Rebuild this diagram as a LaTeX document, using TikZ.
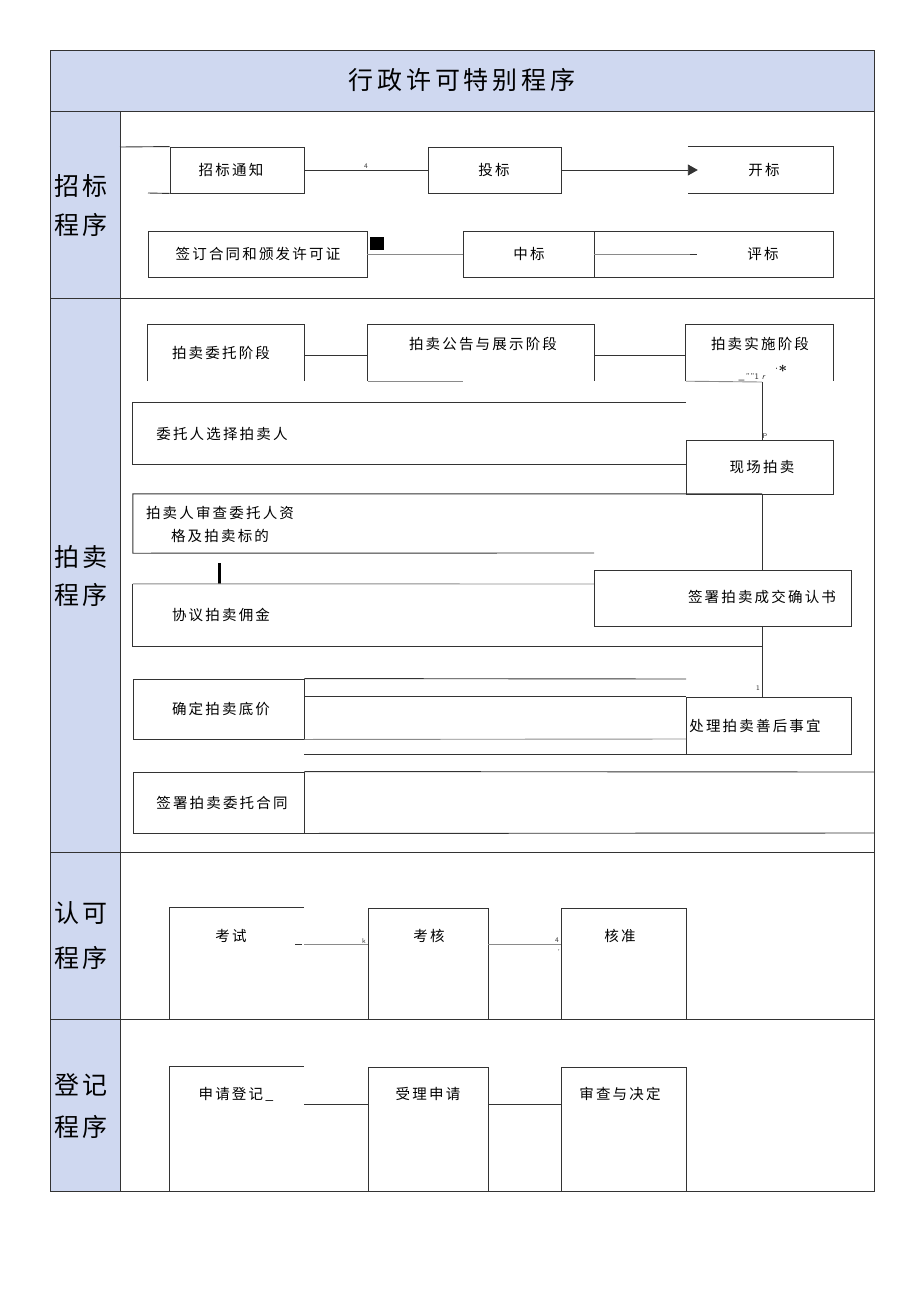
\documentclass[tikz,border=0pt]{standalone}
\usepackage{fontspec}
\newfontfamily\cjk{Noto Sans CJK SC}[LetterSpace=15]
\usetikzlibrary{arrows.meta}
\definecolor{lav}{HTML}{CFD8F0}
\definecolor{ln}{HTML}{333333}
\definecolor{lg}{HTML}{8A8A8A}
\begin{document}
\begin{tikzpicture}[x=1pt,y=-1pt,
  every node/.style={inner sep=0pt, font=\cjk\fontsize{14.5}{17}\selectfont},
  box/.style={rectangle, inner sep=0pt},
  fullbox/.style={box, draw=ln, line width=0.9pt},
  ed/.style={draw=ln, line width=0.9pt},
  gr/.style={draw=lg, line width=0.9pt},
  big/.style={font=\cjk\fontsize{25}{28}\selectfont},
  tinylab/.style={font=\sffamily\fontsize{7}{8}\selectfont, text=ln}]
\useasboundingbox (0,0) rectangle (920,1301);
% backgrounds
\fill[lav] (50,50) rectangle (874,111);
\fill[lav] (50,111) rectangle (120,1191);
% frame
\draw[ed] (50,50) rectangle (874,1191);
\draw[ed] (50,111) -- (874,111);
\draw[ed] (50,298) -- (874,298);
\draw[ed] (50,852) -- (874,852);
\draw[ed] (50,1019) -- (874,1019);
\draw[ed] (120,111) -- (120,1191);
% title and lane labels
\node[big] (title) at (462,80) {行政许可特别程序};
\node[big] (l1a) at (81,186) {招标};
\node[big] (l1b) at (81,225) {程序};
\node[big] (l2a) at (81,557) {拍卖};
\node[big] (l2b) at (81,595) {程序};
\node[big] (l3a) at (81,913) {认可};
\node[big] (l3b) at (81,958) {程序};
\node[big] (l4a) at (81,1085) {登记};
\node[big] (l4b) at (81,1127) {程序};

% ===== 招标程序 =====
\node[fullbox, minimum width=134, minimum height=46] (zbtz) at (237,170) {};
\node (tzbtz) at (231,170) {招标通知};
\draw[ed] (120,147) -- (zbtz.north west);
\draw[ed] (148,193) -- (zbtz.south west);
\node[fullbox, minimum width=133, minimum height=46] (tb) at (494.5,170) {};
\node (ttb) at (494,170) {投标};
\node[box, minimum width=145, minimum height=46] (kb) at (760.5,170) {};
\node (tkb) at (764,170) {开标};
\draw[ed] (kb.north west) -- (kb.north east) -- (kb.south east) -- (kb.south west);
\draw[ed] (zbtz.east) -- (tb.west);
\node[tinylab] (n4a) at (366,166) {4};
\draw[ed, -{Triangle[length=10pt,width=11pt]}] (tb.east) -- ([xshift=10pt]kb.west);

\node[fullbox, minimum width=219, minimum height=46] (qd) at (257.5,254) {};
\node (tqd) at (258,254) {签订合同和颁发许可证};
\node[box, fill=black, minimum width=14, minimum height=13] (sq) at (377,243.5) {};
\node[fullbox, minimum width=131, minimum height=46] (zb) at (528.5,254) {};
\node (tzb) at (529,254) {中标};
\node[fullbox, minimum width=239, minimum height=46] (pb) at (713.5,254) {};
\node (tpb) at (763,254) {评标};
\draw[gr] (qd.east) -- (zb.west);
\coordinate (pbend) at (690,254);
\draw[gr] (pb.west) -- (pbend);
\draw[ed] (pbend) -- ++(7,0);

% ===== 拍卖程序 =====
\node[box, minimum width=156, minimum height=56] (pmwt) at (226,353) {};
\node (tpmwt) at (221,353) {拍卖委托阶段};
\draw[ed] (pmwt.south west) -- (pmwt.north west) -- (pmwt.north east) -- (pmwt.south east);
\node[box, minimum width=226, minimum height=56] (ggzs) at (481,353) {};
\node (tggzs) at (483,344) {拍卖公告与展示阶段};
\draw[ed] (ggzs.south west) -- (ggzs.north west) -- (ggzs.north east) -- (ggzs.south east);
\draw[gr] (ggzs.south west) -- ++(95,0);
\node[box, minimum width=147, minimum height=56] (ssjd) at (759.5,353) {};
\node (tssjd) at (760,344) {拍卖实施阶段};
\draw[ed] (ssjd.south west) -- (ssjd.north west) -- (ssjd.north east) -- (ssjd.south east);
\node[font=\sffamily\fontsize{8.5}{9}\selectfont, text=ln] (gar1) at (752,377) {\_\,''''1 \textit{r}};
\node[font=\rmfamily\fontsize{15}{15}\selectfont] (gar2) at (781,371) {$^{\cdot}$\textbf{*}};
\draw[ed] (pmwt.east |- 0,355) -- (ggzs.west |- 0,355);
\draw[ed] (ggzs.east |- 0,355) -- (ssjd.west |- 0,355);
\coordinate (v1) at (762,382);
\draw[gr] (ssjd.south west) -- (v1);

\node[box, minimum width=553, minimum height=61] (wtxz) at (409.5,433.5) {};
\node (twtxz) at (222,434) {委托人选择拍卖人};
\draw[ed] (wtxz.north east) -- (wtxz.north west) -- (wtxz.south west) -- (wtxz.south east);
\node[fullbox, minimum width=147, minimum height=54] (xcpm) at (759.5,467) {};
\node (txcpm) at (762,467) {现场拍卖};
\draw[ed] (v1) -- (v1 |- xcpm.north);
\node[tinylab] (np) at (765,436) {P};

\node[box, minimum width=629, minimum height=59] (scwt) at (447.5,523.5) {};
\node (tscwt1) at (220,513) {拍卖人审查委托人资};
\node (tscwt2) at (220,536) {格及拍卖标的};
\draw[ed] (scwt.north east) -- (scwt.north west) -- (scwt.south west) -- (594,553);
\node[box, minimum width=3, minimum height=21, fill=black] (bar) at (219,573.5) {};
\node[box, minimum width=629, minimum height=62] (xyyj) at (447.5,615) {};
\node (txyyj) at (221,615) {协议拍卖佣金};
\draw[gr] (594,584) -- (xyyj.north west);
\draw[ed] (xyyj.north west) -- (xyyj.south west) -- (xyyj.south east);
\node[fullbox, minimum width=257, minimum height=56] (qr) at (722.5,598) {};
\node (tqr) at (762,597) {签署拍卖成交确认书};
\coordinate (v2) at (762,494);
\draw[ed] (v2) -- (v2 |- qr.north);

\node[fullbox, minimum width=171, minimum height=60] (qddj) at (218.5,709) {};
\node (tqddj) at (221,709) {确定拍卖底价};
\node[fullbox, minimum width=165, minimum height=57] (cl) at (768.5,725.5) {};
\node (tcl) at (755,726) {处理拍卖善后事宜};
\coordinate (v3) at (762,626);
\draw[ed] (v3) -- (v3 |- cl.north);
\node[tinylab] (n1) at (758,688) {1};
\draw[ed] (qddj.north east) -- (686,679);
\draw[ed] (qddj.north east |- cl.north) -- (cl.north west);
\draw[gr] (qddj.south east) -- (686,739);
\draw[ed] (qddj.south east |- cl.south) -- (cl.south west);

\node[fullbox, minimum width=171, minimum height=61] (qwht) at (218.5,802.5) {};
\node (tqwht) at (222,803) {签署拍卖委托合同};
\draw[ed] (qwht.north east) -- (874,772);
\draw[ed] (qwht.south east) -- (874,833);

% ===== 认可程序 =====
\node[box, minimum width=134, minimum height=111] (ks) at (237,963.5) {};
\node (tks) at (231,936) {考试};
\draw[ed] (ks.south west) -- (ks.north west) -- (ks.north east);
\node[fullbox, minimum width=120, minimum height=111] (kh) at (428,963.5) {};
\node (tkh) at (429,936) {考核};
\node[fullbox, minimum width=125, minimum height=111] (hz) at (623.5,963.5) {};
\node (thz) at (620,936) {核准};
\coordinate (c1) at (304,944);
\draw[gr] (c1) -- (c1 -| kh.west);
\draw[ed] (295,944) -- (302,944);
\node[tinylab] (nk) at (364,941) {k};
\coordinate (c2) at (488,944);
\draw[gr] (c2) -- (c2 -| hz.west);
\node[tinylab] (n4b) at (557,940) {4};
\node[tinylab] (nq) at (559,952) {'};

% ===== 登记程序 =====
\node[box, minimum width=134, minimum height=124] (sqdj) at (237,1129) {};
\node (tsqdj) at (236,1094) {申请登记\_};
\draw[ed] (sqdj.south west) -- (sqdj.north west) -- (sqdj.north east);
\node[fullbox, minimum width=120, minimum height=124] (slsq) at (428,1129) {};
\node (tslsq) at (428,1094) {受理申请};
\node[fullbox, minimum width=125, minimum height=124] (scjd) at (623.5,1129) {};
\node (tscjd) at (620,1094) {审查与决定};
\coordinate (c3) at (304,1104);
\draw[ed] (c3) -- (c3 -| slsq.west);
\coordinate (c4) at (488,1104);
\draw[ed] (c4) -- (c4 -| scjd.west);
\end{tikzpicture}
\end{document}
